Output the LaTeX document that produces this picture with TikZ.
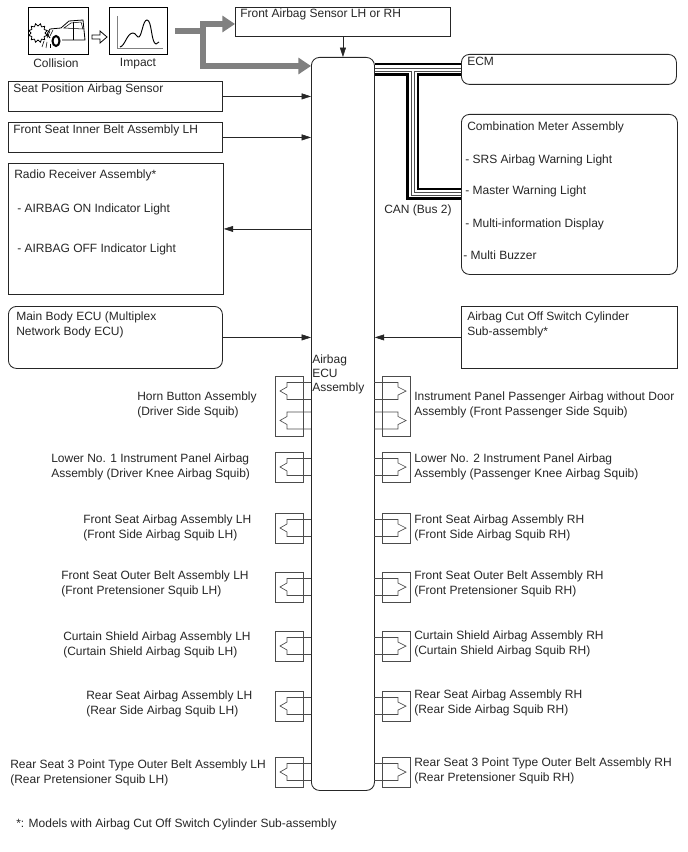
\documentclass[tikz,border=0pt]{standalone}
\usepackage{fontspec}
\setmainfont{Liberation Sans}
\usetikzlibrary{arrows.meta}
\tikzset{
  sqbox/.style 2 args={draw=black!85, line width=.65pt, minimum width=#1*.75pt, minimum height=#2*.75pt, inner sep=0pt, anchor=north west},
  rbox/.style 2 args={sqbox={#1}{#2}, rounded corners=6pt},
  squibbox/.style={draw=black!70, line width=.5pt, minimum width=21pt, inner sep=0pt},
  squibline/.style={draw=black!70, line width=.5pt},
  txt/.style={font=\fontsize{9}{11}\selectfont, text=black!85, inner sep=0pt, anchor=west, align=left, yshift=-1.2pt},
  sigline/.style={draw=black!85, line width=.4pt, -{Triangle[length=7pt,width=4.5pt]}},
  grayline/.style={draw=black!50, line width=4.5pt, -{Triangle[length=9.5pt,width=12pt]}},
  busthick/.style={draw=black, line width=1.8pt},
  busthin/.style={draw=black!70, line width=.45pt}
}
\newcommand{\squibleft}[1]{
  \draw[squibline] (311,#1-8.5) -- (287,#1-8.5) -- (287,#1-4) -- (280,#1) -- (287,#1+4) -- (287,#1+8.5) -- (311,#1+8.5);
}
\newcommand{\squibright}[1]{
  \draw[squibline] (374,#1-8.5) -- (398,#1-8.5) -- (398,#1-4) -- (406,#1) -- (398,#1+4) -- (398,#1+8.5) -- (374,#1+8.5);
}
\begin{document}
\begin{tikzpicture}[x=.75pt, y=-.75pt]
  \useasboundingbox (0,0) rectangle (688,852);

  % icons
  \node[sqbox={60}{47}, draw=black, line width=.9pt] (collision) at (28,7) {};
  \node[sqbox={58}{47}, draw=black, line width=.9pt] (impact) at (109,7) {};
  \node[txt, anchor=center] (collisionlabel) at (56,62) {Collision};
  \node[txt, anchor=center] (impactlabel) at (138,62) {Impact};
  \draw[line width=.6pt] (50,29) -- (61,28) -- (69,21) -- (83,20) -- (85,40) -- (62,40);
  \draw[line width=.4pt] (64,28) -- (71,23) -- (81,22) -- (83,29) -- cycle;
  \draw[line width=.4pt] (73,22) -- (73,40);
  \draw[line width=.7pt] (50,29) -- (47,34) -- (50,38);
  \draw[line width=1.5pt] (56,41) ellipse (3.5 and 5);
  \draw[line width=.4pt] (50,31) -- (47,38);
  \draw[line width=.4pt] (53,30) -- (50,36);
  \draw[line width=.4pt] (44,41) -- (42,47);
  \draw[line width=.4pt] (47,42) -- (46,48);
  \draw[line width=.4pt] (50,44) -- (50,48);
  \foreach \a in {0,30,...,330}
    \draw[line width=.6pt] (38,33) +(\a:7) -- +(\a+15:9.5) -- +(\a+30:7);
  \draw[draw=black!50, line width=.6pt] (117,16) -- (117,48) -- (163,48);
  \draw[line width=.7pt] (120,47) .. controls (125,46) and (127,33) .. (133,33)
    .. controls (136,33) and (137,38) .. (139,37)
    .. controls (142,35) and (143,20) .. (147,20)
    .. controls (152,20) and (151,43) .. (156,44) -- (159,42);
  \draw[line width=.6pt, fill=white] (92,35) -- (100,35) -- (100,31) -- (107,37) -- (100,43) -- (100,39) -- (92,39) -- cycle;

  % boxes
  \node[sqbox={215}{29}] (frontsensor) at (235,7) {};
  \node[rbox={63}{733}] (ecu) at (311,57) {};
  \node[sqbox={214}{30}] (seatsensor) at (8,81) {};
  \node[sqbox={214}{30}] (innerbelt) at (8,122) {};
  \node[sqbox={215}{131}] (radio) at (8,163) {};
  \node[rbox={214}{62}] (mainbody) at (8,306) {};
  \node[rbox={215}{30}] (ecm) at (461,54) {};
  \node[rbox={216}{160}] (meter) at (461,114) {};
  \node[sqbox={216}{62}] (cutoff) at (461,306) {};

  % texts
  \node[txt] (frontsensortext) at (240,13) {Front Airbag Sensor LH or RH};
  \node[txt] (seatsensortext) at (13,88) {Seat Position Airbag Sensor};
  \node[txt] (innerbelttext) at (13,129) {Front Seat Inner Belt Assembly LH};
  \node[txt] (radiotext) at (14,174) {Radio Receiver Assembly*};
  \node[txt] (radioon) at (17,208) {- AIRBAG ON Indicator Light};
  \node[txt] (radiooff) at (17,248) {- AIRBAG OFF Indicator Light};
  \node[txt] (mainbodytext) at (16,323) {Main Body ECU (Multiplex\\Network Body ECU)};
  \node[txt] (ecmtext) at (467,60) {ECM};
  \node[txt] (metertext) at (467,126) {Combination Meter Assembly};
  \node[txt] (metersrs) at (465,159) {- SRS Airbag Warning Light};
  \node[txt] (metermaster) at (465,190) {- Master Warning Light};
  \node[txt] (meterinfo) at (465,223) {- Multi-information Display};
  \node[txt] (meterbuzzer) at (463,254) {- Multi Buzzer};
  \node[txt] (cutofftext) at (467,323) {Airbag Cut Off Switch Cylinder\\Sub-assembly*};
  \node[txt] (cantext) at (384,209) {CAN (Bus 2)};
  \node[txt, font=\fontsize{9}{10.5}\selectfont] (ecutext) at (312,373) {Airbag\\ECU\\Assembly};
  \node[txt] (footnote) at (16,823) {*: Models with Airbag Cut Off Switch Cylinder Sub-assembly};

  % arrows
  \coordinate (impulse) at (175,31);
  \coordinate (hub) at (203,31);
  \draw[grayline] (impulse) -- (hub) -- (203,24) -- (frontsensor.west |- 0,24);
  \draw[grayline] (hub) -- (203,66) -- (ecu.west |- 0,66);
  \draw[sigline] (frontsensor.south -| ecu.north) -- (ecu.north);
  \draw[sigline] (seatsensor.east) -- (ecu.west |- seatsensor.east);
  \draw[sigline] (innerbelt.east) -- (ecu.west |- innerbelt.east);
  \draw[sigline] (ecu.west |- radio.east) -- (radio.east);
  \draw[sigline] (mainbody.east) -- (ecu.west |- mainbody.east);
  \draw[sigline] (cutoff.west) -- (ecu.east |- cutoff.west);

  % CAN bus
  \draw[busthick] (ecu.east |- 0,64) -- (ecm.west |- 0,64);
  \draw[busthin] (ecu.east |- 0,68) -- (ecm.west |- 0,68);
  \draw[busthin] (ecu.east |- 0,71) -- (411,71) -- (411,195) -- (meter.west |- 0,195);
  \draw[busthin] (ecm.west |- 0,71) -- (414,71) -- (414,192) -- (meter.west |- 0,192);
  \draw[busthick] (ecu.east |- 0,74.5) -- (407.5,74.5) -- (407.5,198.5) -- (meter.west |- 0,198.5);
  \draw[busthick] (ecm.west |- 0,74.5) -- (418,74.5) -- (418,189) -- (meter.west |- 0,189);

  % squibs
  \node[squibbox, minimum height=45pt, anchor=north west] (hornbox) at (275,376) {};
  \node[squibbox, minimum height=45pt, anchor=north west] (passbox) at (382,376) {};
  \squibleft{391}
  \squibleft{420.5}
  \squibright{391}
  \squibright{420.5}
  \foreach \sy/\sname in {467/knee, 528/side, 587/outer, 646/curtain, 706/rear, 772/three} {
    \node[squibbox, minimum height=22.5pt, anchor=west] (\sname boxl) at (275,\sy) {};
    \node[squibbox, minimum height=22.5pt, anchor=west] (\sname boxr) at (382,\sy) {};
    \squibleft{\sy}
    \squibright{\sy}
  }

  % squib texts
  \node[txt] (hornl) at (137,403) {Horn Button Assembly\\(Driver Side Squib)};
  \node[txt] (kneel) at (51,465) {Lower No. 1 Instrument Panel Airbag\\Assembly (Driver Knee Airbag Squib)};
  \node[txt] (sidel) at (83,526) {Front Seat Airbag Assembly LH\\(Front Side Airbag Squib LH)};
  \node[txt] (outerl) at (61,582) {Front Seat Outer Belt Assembly LH\\(Front Pretensioner Squib LH)};
  \node[txt] (curtainl) at (63,643) {Curtain Shield Airbag Assembly LH\\(Curtain Shield Airbag Squib LH)};
  \node[txt] (rearl) at (86,702) {Rear Seat Airbag Assembly LH\\(Rear Side Airbag Squib LH)};
  \node[txt] (threel) at (10,771) {Rear Seat 3 Point Type Outer Belt Assembly LH\\(Rear Pretensioner Squib LH)};
  \node[txt] (hornr) at (414,403) {Instrument Panel Passenger Airbag without Door\\Assembly (Front Passenger Side Squib)};
  \node[txt] (kneer) at (414,465) {Lower No. 2 Instrument Panel Airbag\\Assembly (Passenger Knee Airbag Squib)};
  \node[txt] (sider) at (414,526) {Front Seat Airbag Assembly RH\\(Front Side Airbag Squib RH)};
  \node[txt] (outerr) at (414,582) {Front Seat Outer Belt Assembly RH\\(Front Pretensioner Squib RH)};
  \node[txt] (curtainr) at (414,642) {Curtain Shield Airbag Assembly RH\\(Curtain Shield Airbag Squib RH)};
  \node[txt] (rearr) at (414,701) {Rear Seat Airbag Assembly RH\\(Rear Side Airbag Squib RH)};
  \node[txt] (threer) at (414,769) {Rear Seat 3 Point Type Outer Belt Assembly RH\\(Rear Pretensioner Squib RH)};
\end{tikzpicture}
\end{document}
